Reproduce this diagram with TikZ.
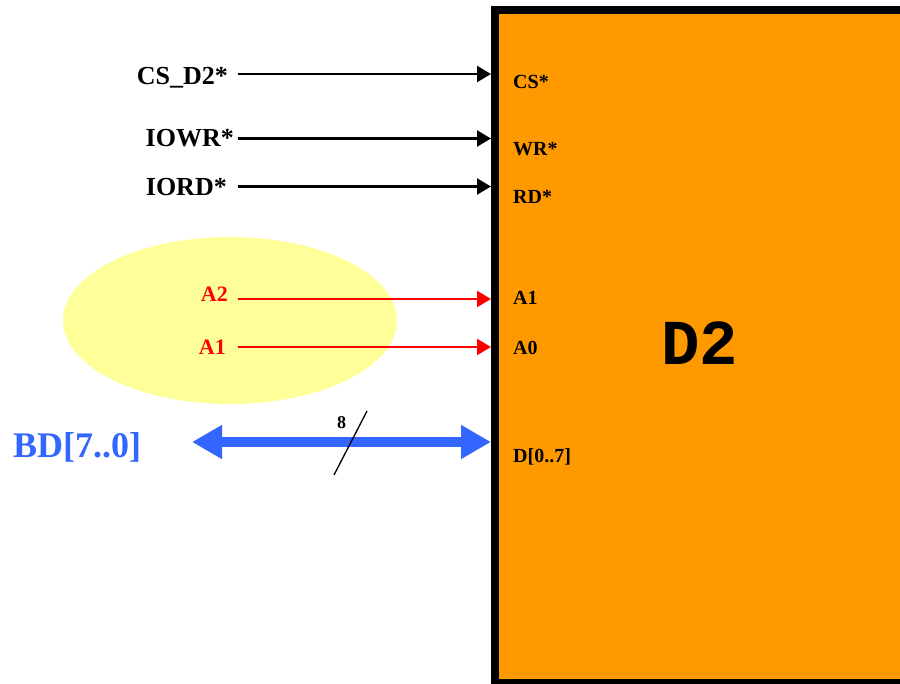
\documentclass[tikz,border=0pt]{standalone}
\usepackage{fontspec}
\setmainfont{Liberation Serif}
\newfontfamily\chipfont{Liberation Mono}
\usetikzlibrary{arrows.meta}
\definecolor{chiporange}{HTML}{FF9900}
\definecolor{ellyellow}{HTML}{FFFF99}
\definecolor{busblue}{HTML}{3366FF}
\definecolor{sigred}{HTML}{FF0000}
\begin{document}
\begin{tikzpicture}[x=1pt,y=-1pt,
  sig/.style={font=\fontsize{26}{26}\selectfont\bfseries, inner sep=0pt, anchor=base east},
  redsig/.style={font=\fontsize{22}{22}\selectfont\bfseries, text=sigred, inner sep=0pt, anchor=base east},
  pin/.style={font=\fontsize{20}{20}\selectfont\bfseries, inner sep=0pt, anchor=base west},
  wire/.style={line width=2.2pt, -{Triangle[length=14pt,width=16pt]}},
  redwire/.style={wire, draw=sigred, color=sigred},
  bus/.style={draw=busblue, color=busblue, line width=10pt, {Triangle[length=30pt,width=32pt]}-{Triangle[length=30pt,width=32pt]}},
]
\useasboundingbox (0,0) rectangle (900,684);
% highlight ellipse
\fill[ellyellow] (230,320.5) ellipse [x radius=167pt, y radius=83.5pt];
% chip
\node (chip) [draw=black, fill=chiporange, line width=8pt, inner sep=0pt,
  minimum width=425pt, minimum height=672.5pt, anchor=north west] at (491,6.5) {};
\node (name) [font=\chipfont\bfseries\fontsize{64}{64}\selectfont, anchor=base west, inner sep=0pt] at (661,365) {D2};
% left signal labels
\node (cs) [sig] at (228,85) {CS\_D2*};
\node (iowr) [sig] at (234,147) {IOWR*};
\node (iord) [sig] at (227,196) {IORD*};
\node (a2) [redsig] at (228,302) {A2};
\node (a1) [redsig] at (226,355) {A1};
\node (bd) [font=\fontsize{36}{36}\selectfont\bfseries, text=busblue, inner sep=0pt, anchor=base west] at (13,457) {BD[7..0]};
% pin labels
\node (pcs) [pin] at (513,89) {CS*};
\node (pwr) [pin] at (513,156) {WR*};
\node (prd) [pin] at (513,204) {RD*};
\node (pa1) [pin] at (513,305) {A1};
\node (pa0) [pin] at (513,355) {A0};
\node (pd) [pin] at (513,463) {D[0..7]};
% wire start points
\coordinate (csS) at (238,74);
\coordinate (wrS) at (238,138.5);
\coordinate (rdS) at (238,186.5);
\coordinate (a2S) at (238,299);
\coordinate (a1S) at (238,347);
\coordinate (bdS) at (192,442);
\draw[wire] (csS) -- (csS -| chip.west);
\draw[wire] (wrS) -- (wrS -| chip.west);
\draw[wire] (rdS) -- (rdS -| chip.west);
\draw[redwire] (a2S) -- (a2S -| chip.west);
\draw[redwire] (a1S) -- (a1S -| chip.west);
\draw[bus] (bdS) -- (bdS -| chip.west);
% bus width slash
\coordinate (slA) at (334,475);
\coordinate (slB) at (367,411);
\draw[line width=1.3pt] (slA) -- (slB);
\node (w8) [font=\fontsize{18}{18}\selectfont\bfseries, anchor=base west, inner sep=0pt] at (337,429) {8};
\end{tikzpicture}
\end{document}
